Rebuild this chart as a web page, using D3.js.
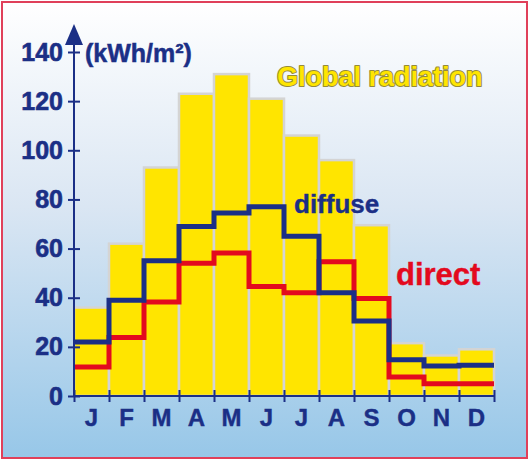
<!DOCTYPE html>
<html>
<head>
<meta charset="utf-8">
<script src="https://cdn.jsdelivr.net/npm/d3@7"></script>
<style>
  body { margin: 0; background: #fff; }
  text { font-family: "Liberation Sans", Arial, sans-serif; font-weight: bold; }
</style>
</head>
<body>
<script>
const w = 528;
const h = 459;

// ----- DATA -----
const months = ["J", "F", "M", "A", "M", "J", "J", "A", "S", "O", "N", "D"];
const globalRad = [36, 62, 93, 123, 131, 121, 106, 96, 69.5, 21.5, 16.5, 19];
const diffuse = [22, 39, 55, 69, 74.5, 77, 65, 42, 30.5, 14.8, 12.2, 12.5];
const direct = [11.8, 23.8, 38.3, 54, 58.2, 44.6, 42, 54.6, 39.7, 7.7, 5, 5];
const yTicks = [0, 20, 40, 60, 80, 100, 120, 140];

const blue = "#1b2f86";
const red = "#e30a1e";
const yellow = "#ffe500";

const svg = d3.select("body").append("svg")
  .attr("width", w)
  .attr("height", h);

// ----- BACKGROUND -----
const grad = svg.append("defs").append("linearGradient")
  .attr("id", "bg").attr("x1", 0).attr("y1", 0).attr("x2", 0).attr("y2", 1);
grad.append("stop").attr("offset", "0%").attr("stop-color", "#ffffff");
grad.append("stop").attr("offset", "45%").attr("stop-color", "#dae6f3");
grad.append("stop").attr("offset", "100%").attr("stop-color", "#97c7e8");

svg.append("rect")
  .attr("x", 2).attr("y", 2)
  .attr("width", w - 3).attr("height", h - 3)
  .attr("fill", "url(#bg)")
  .attr("stroke", "#e0405a")
  .attr("stroke-width", 2);

// ----- SCALES -----
const x0 = 74, x1 = 494;
const x = d3.scaleBand().domain(d3.range(12)).range([x0, x1]).paddingInner(0);
const xEdge = d3.scaleLinear().domain([0, 12]).range([x0, x1]);
const y = d3.scaleLinear().domain([0, 140]).range([396, 52]);

// ----- BARS -----
svg.append("g")
  .selectAll("rect")
  .data(globalRad)
  .enter()
  .append("rect")
  .attr("x", (d, i) => x(i))
  .attr("y", d => y(d))
  .attr("width", x.bandwidth())
  .attr("height", d => y(0) - y(d))
  .attr("fill", yellow)
  .attr("stroke", "#d4d4d4")
  .attr("stroke-width", 2.5);

// ----- STEP LINES -----
const step = d3.line()
  .x(d => xEdge(d[0]))
  .y(d => y(d[1]))
  .curve(d3.curveStepAfter);

function stepData(vals) {
  const pts = vals.map((v, i) => [i, v]);
  pts.push([12, vals[vals.length - 1]]);
  return pts;
}

svg.append("path")
  .datum(stepData(direct))
  .attr("d", step)
  .attr("fill", "none")
  .attr("stroke", red)
  .attr("stroke-width", 5);

svg.append("path")
  .datum(stepData(diffuse))
  .attr("d", step)
  .attr("fill", "none")
  .attr("stroke", blue)
  .attr("stroke-width", 5);

// ----- Y AXIS -----
const yAxis = svg.append("g")
  .attr("transform", `translate(${x0},0)`)
  .call(d3.axisLeft(y).tickValues(yTicks).tickSize(6).tickPadding(5));
yAxis.select(".domain").remove();
yAxis.selectAll(".tick line")
  .attr("x1", -6).attr("x2", 6)
  .attr("stroke", blue).attr("stroke-width", 2);
yAxis.selectAll(".tick text")
  .attr("fill", blue)
  .attr("stroke", blue)
  .attr("stroke-width", 0.6)
  .style("font-size", "25px");

svg.append("line")
  .attr("x1", x0).attr("x2", x0)
  .attr("y1", y(0)).attr("y2", 40)
  .attr("stroke", blue).attr("stroke-width", 2);

svg.append("path")
  .attr("d", `M${x0},24 L${x0 + 9},45 L${x0 - 9},45 Z`)
  .attr("fill", blue);

// ----- X AXIS -----
const xTicksAxis = svg.append("g")
  .attr("transform", `translate(0,${y(0)})`)
  .call(d3.axisBottom(xEdge).ticks(12).tickSize(6).tickFormat(""));
xTicksAxis.select(".domain")
  .attr("d", `M${x0},0H${x1}`)
  .attr("stroke", blue).attr("stroke-width", 2);
xTicksAxis.selectAll(".tick line")
  .attr("y1", -6).attr("y2", 6)
  .attr("stroke", blue).attr("stroke-width", 2);

const xLabels = svg.append("g")
  .attr("transform", `translate(0,${y(0)})`)
  .call(d3.axisBottom(x).tickSize(0).tickPadding(13).tickFormat(i => months[i]));
xLabels.select(".domain").remove();
xLabels.selectAll(".tick text")
  .attr("fill", blue)
  .attr("stroke", blue)
  .attr("stroke-width", 0.4)
  .style("font-size", "24px");

// ----- LABELS -----
svg.append("text")
  .attr("x", 85).attr("y", 62)
  .attr("fill", blue)
  .attr("stroke", blue)
  .attr("stroke-width", 0.5)
  .style("font-size", "25px")
  .text("(kWh/m²)");

svg.append("text")
  .attr("x", 277).attr("y", 86)
  .attr("fill", yellow)
  .attr("stroke", "#948a3c")
  .attr("stroke-width", 2)
  .attr("paint-order", "stroke")
  .attr("stroke-linejoin", "round")
  .style("font-size", "27px")
  .text("Global radiation");

svg.append("text")
  .attr("x", 294).attr("y", 213)
  .attr("fill", blue)
  .attr("stroke", blue)
  .attr("stroke-width", 0.4)
  .style("font-size", "26px")
  .text("diffuse");

svg.append("text")
  .attr("x", 396).attr("y", 285)
  .attr("fill", red)
  .attr("stroke", red)
  .attr("stroke-width", 0.4)
  .style("font-size", "31px")
  .text("direct");
</script>
</body>
</html>
